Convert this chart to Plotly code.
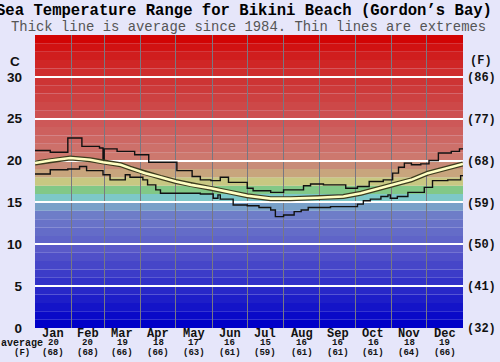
import plotly.graph_objects as go

# ---------------- data ----------------
months = ["Jan", "Feb", "Mar", "Apr", "May", "Jun", "Jul", "Aug", "Sep", "Oct", "Nov", "Dec"]
month_avg_c = [20, 20, 19, 18, 17, 16, 15, 16, 16, 16, 18, 19]
month_avg_f = [68, 68, 66, 66, 63, 61, 59, 61, 61, 61, 64, 66]
month_starts = [0, 31, 59, 90, 120, 151, 181, 212, 243, 273, 304, 334, 365]

c_ticks = [0, 5, 10, 15, 20, 25, 30]
f_ticks = ["(32)", "(41)", "(50)", "(59)", "(68)", "(77)", "(86)"]

avg_day = [0, 13, 30, 47, 58, 73, 81, 94, 107, 120, 133, 150, 167, 181, 201, 218, 241, 263, 278, 291, 306, 321, 335, 351, 365]
avg_val = [19.7, 20.0, 20.3, 20.1, 19.8, 19.5, 19.1, 18.5, 18.0, 17.5, 17.1, 16.7, 16.2, 15.8, 15.45, 15.45, 15.55, 15.7, 16.1, 16.6, 17.1, 17.7, 18.5, 19.1, 19.6]

max_day = [0, 13, 28, 40, 55, 58, 59, 70, 85, 97, 121, 134, 141, 150, 158, 165, 181, 186, 201, 212, 229, 235, 246, 265, 275, 285, 297, 305, 310, 315, 321, 329, 336, 344, 355, 362, 365]
max_val = [21.2, 21.0, 22.7, 21.7, 21.5, 19.7, 21.4, 21.1, 20.7, 19.8, 18.8, 18.1, 17.7, 17.6, 18.0, 17.4, 16.7, 16.4, 16.2, 16.5, 17.0, 17.2, 17.1, 16.7, 16.9, 17.5, 17.7, 18.5, 19.2, 19.7, 19.5, 19.6, 20.0, 20.9, 21.1, 21.4, 21.4]

min_day = [0, 13, 28, 38, 44, 58, 64, 77, 81, 92, 96, 103, 107, 141, 152, 156, 158, 169, 181, 191, 201, 205, 212, 221, 227, 233, 252, 275, 280, 286, 295, 301, 303, 309, 318, 332, 339, 352, 363, 365]
min_val = [18.4, 18.9, 19.0, 19.3, 18.8, 18.3, 17.7, 18.3, 18.0, 17.7, 17.1, 16.5, 16.1, 16.0, 15.5, 15.9, 15.4, 14.7, 14.6, 14.4, 14.1, 13.3, 13.5, 13.9, 14.1, 14.4, 14.5, 14.8, 15.2, 15.4, 15.7, 15.9, 15.5, 15.7, 16.2, 16.8, 17.6, 17.7, 18.2, 18.2]

# one colour per 1-degree band, 0..35 C
band_colors = [
    "rgb(0,0,200)", "rgb(10,10,200)", "rgb(20,20,200)", "rgb(30,30,200)", "rgb(40,40,200)",
    "rgb(50,50,200)", "rgb(60,60,200)", "rgb(70,70,200)", "rgb(80,80,200)", "rgb(90,90,200)",
    "rgb(95,100,200)", "rgb(100,108,200)", "rgb(105,115,200)", "rgb(110,125,200)", "rgb(120,160,200)",
    "rgb(125,200,200)", "rgb(130,200,135)", "rgb(200,200,130)", "rgb(200,165,125)", "rgb(200,140,120)",
    "rgb(205,120,110)", "rgb(205,112,106)", "rgb(205,104,100)", "rgb(205,96,94)", "rgb(205,88,88)",
    "rgb(205,80,80)", "rgb(205,72,72)", "rgb(205,65,65)", "rgb(205,58,58)", "rgb(205,52,52)",
    "rgb(207,45,45)", "rgb(207,38,38)", "rgb(208,30,30)", "rgb(209,18,18)", "rgb(210,4,4)",
]

# ---------------- layout constants ----------------
W, H = 500, 362
L, R, T, B = 35, 37, 35, 34
PH = H - T - B
PW = W - L - R


def py(ypix):
    return (H - B - ypix) / PH


def px(xpix):
    return (xpix - L) / PW


mono = "Liberation Mono"

fig = go.Figure()

shapes = []
for i, c in enumerate(band_colors):
    shapes.append(dict(type="rect", xref="x", yref="y", x0=0, x1=365, y0=i, y1=i + 1,
                       fillcolor=c, line=dict(width=0), layer="below"))

fig.add_trace(go.Scatter(x=max_day, y=max_val, mode="lines", line=dict(color="#111", width=1.4, shape="hv"),
                         hoverinfo="skip", showlegend=False))
fig.add_trace(go.Scatter(x=min_day, y=min_val, mode="lines", line=dict(color="#111", width=1.4, shape="hv"),
                         hoverinfo="skip", showlegend=False))
fig.add_trace(go.Scatter(x=avg_day, y=avg_val, mode="lines", line=dict(color="rgb(60,60,30)", width=5),
                         hoverinfo="skip", showlegend=False))
fig.add_trace(go.Scatter(x=avg_day, y=avg_val, mode="lines", line=dict(color="rgb(255,255,195)", width=2.6),
                         hoverinfo="skip", showlegend=False))
# invisible trace for the right-hand Fahrenheit axis
fig.add_trace(go.Scatter(x=[0], y=[0], yaxis="y2", mode="markers", marker=dict(opacity=0),
                         hoverinfo="skip", showlegend=False))

annotations = []
annotations.append(dict(text="<b>Sea Temperature Range for Bikini Beach (Gordon’s Bay)</b>",
                        xref="paper", yref="paper", x=px(244), y=py(11), showarrow=False,
                        xanchor="center", yanchor="middle", font=dict(family=mono, size=15.6, color="#000")))
annotations.append(dict(text="Thick line is average since 1984. Thin lines are extremes",
                        xref="paper", yref="paper", x=px(248), y=py(27), showarrow=False,
                        xanchor="center", yanchor="middle", font=dict(family=mono, size=13.9, color="#555")))
annotations.append(dict(text="<b>C</b>", xref="paper", yref="paper", x=px(22), y=py(61), showarrow=False,
                        xanchor="right", yanchor="middle", font=dict(family="Liberation Sans", size=13.5, color="#111")))
annotations.append(dict(text="<b>(F)</b>", xref="paper", yref="paper", x=px(481), y=py(61), showarrow=False,
                        xanchor="center", yanchor="middle", font=dict(family=mono, size=12, color="#111")))
annotations.append(dict(text="<b>average</b>", xref="paper", yref="paper", x=px(22), y=py(343), showarrow=False,
                        xanchor="center", yanchor="middle", font=dict(family=mono, size=10, color="#111")))
annotations.append(dict(text="<b>(F)</b>", xref="paper", yref="paper", x=px(22), y=py(352.5), showarrow=False,
                        xanchor="center", yanchor="middle", font=dict(family=mono, size=9, color="#111")))
for i, m in enumerate(months):
    mid = (month_starts[i] + month_starts[i + 1]) / 2
    annotations.append(dict(text=f"<b>{m}</b>", xref="x", yref="paper", x=mid, y=py(334), showarrow=False,
                            xanchor="center", yanchor="middle", font=dict(family=mono, size=12, color="#111")))
    annotations.append(dict(text=f"<b>{month_avg_c[i]}</b>", xref="x", yref="paper", x=mid, y=py(343), showarrow=False,
                            xanchor="center", yanchor="middle", font=dict(family=mono, size=9, color="#111")))
    annotations.append(dict(text=f"<b>({month_avg_f[i]})</b>", xref="x", yref="paper", x=mid, y=py(352.5), showarrow=False,
                            xanchor="center", yanchor="middle", font=dict(family=mono, size=9, color="#111")))

fig.update_layout(
    width=W, height=H,
    margin=dict(l=L, r=R, t=T, b=B, pad=0),
    paper_bgcolor="#e6e6fa",
    plot_bgcolor="#e6e6fa",
    showlegend=False,
    shapes=shapes,
    annotations=annotations,
    xaxis=dict(range=[0, 365], tickvals=month_starts[1:-1], showticklabels=False, ticks="",
               showgrid=True, gridcolor="rgb(120,120,130)", gridwidth=1, zeroline=False,
               showline=False, fixedrange=True, automargin=False),
    yaxis=dict(range=[0, 35], tickvals=c_ticks, ticktext=[str(v) for v in c_ticks], ticks="",
               showgrid=True, gridcolor="white", gridwidth=1.6, zeroline=False, showline=False,
               tickfont=dict(family="Liberation Sans", size=13.5, color="#111", weight="bold"),
               ticklabelstandoff=12, fixedrange=True, automargin=False),
    yaxis2=dict(range=[0, 35], overlaying="y", side="right", tickvals=c_ticks, ticktext=f_ticks,
                ticks="", showgrid=False, zeroline=False, showline=False,
                tickfont=dict(family=mono, size=12, color="#111", weight="bold"),
                ticklabelstandoff=3, fixedrange=True, automargin=False),
)

fig.write_html("out.html", config={"displayModeBar": False},
               post_script="document.body.style.margin='0';document.body.style.overflow='hidden';")
